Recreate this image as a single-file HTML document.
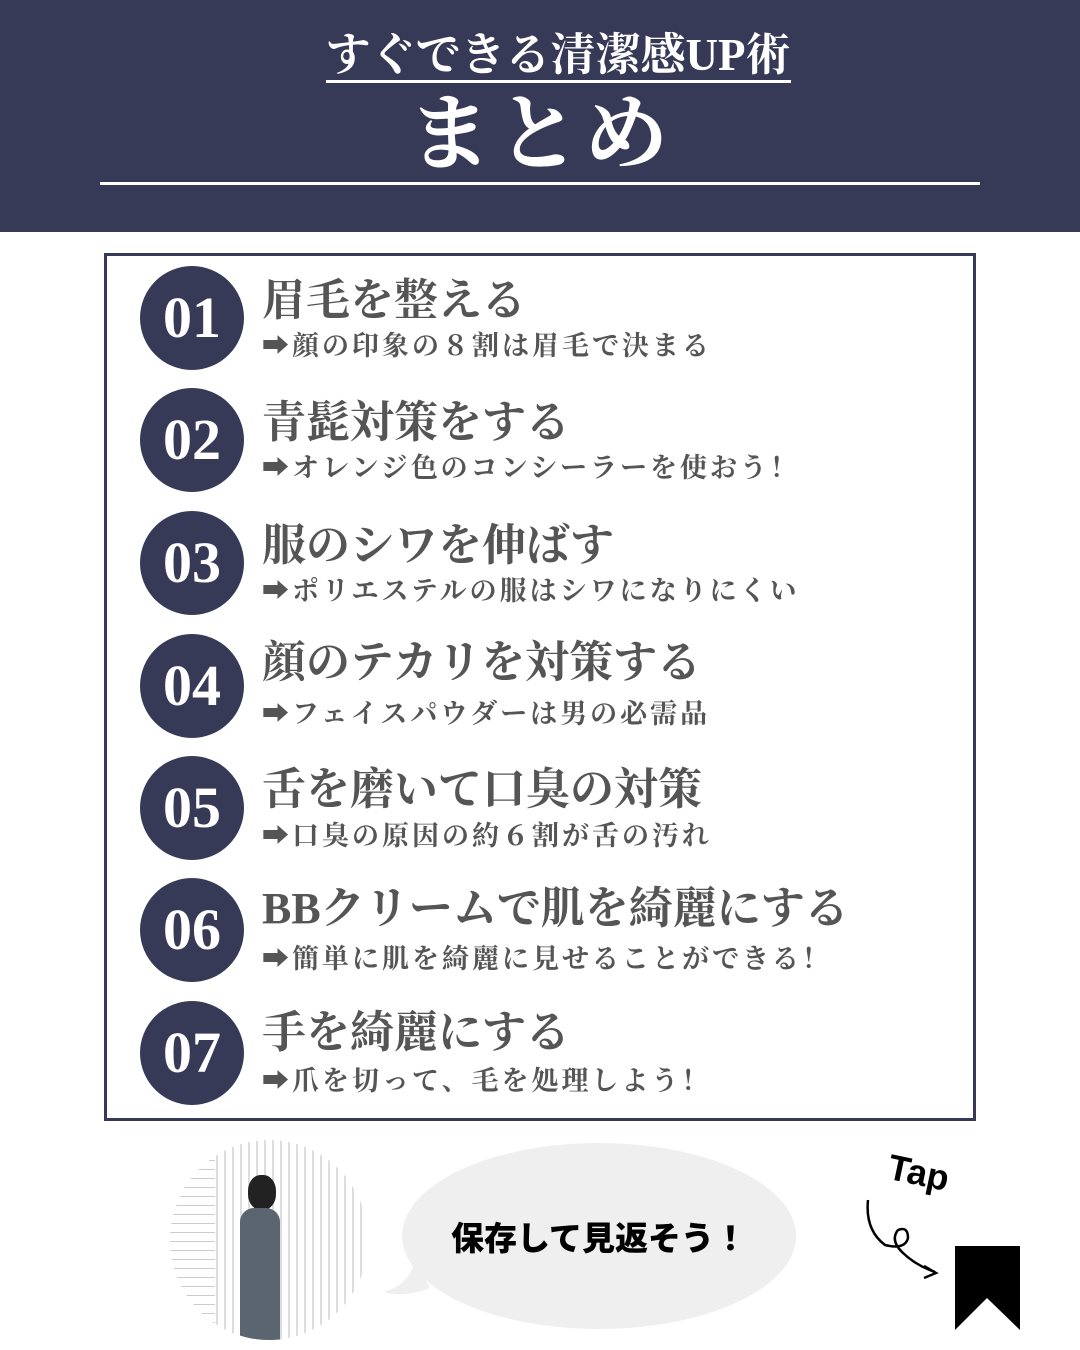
<!DOCTYPE html>
<html><head><meta charset="utf-8"><style>
*{margin:0;padding:0;box-sizing:border-box}
body{width:1080px;height:1350px;background:#fff;position:relative;overflow:hidden;font-family:"Liberation Serif","Noto Serif CJK SC",serif}
.hdr{position:absolute;left:0;top:0;width:1080px;height:232px;background:#363a57}
.t1{position:absolute;left:18px;width:1080px;top:27px;text-align:center;color:#fff;font-size:45px;font-weight:bold;line-height:56px}
.t1 span{border-bottom:3px solid #fff;padding-bottom:0}
.t2{position:absolute;left:0;width:1080px;top:88px;text-align:center;color:#fff;font-size:84px;font-weight:bold;line-height:96px;letter-spacing:4px}
.hl{position:absolute;left:100px;top:182px;width:880px;height:3px;background:#fff}
.box{position:absolute;left:104px;top:253px;width:872px;height:868px;border:3px solid #363a57}
.c{position:absolute;left:140px;width:104px;height:104px;border-radius:50%;background:#363a57;color:#fff;font-size:58px;font-weight:bold;text-align:center;line-height:104px}
.ti{position:absolute;left:262px;font-size:44px;font-weight:bold;color:#555;line-height:50px;white-space:nowrap}
.su{position:absolute;left:262px;font-size:27px;letter-spacing:3px;font-weight:bold;color:#555;line-height:30px;white-space:nowrap}
.av{position:absolute;left:170px;top:1140px;width:198px;height:200px;border-radius:50%;overflow:hidden;background:repeating-linear-gradient(90deg,#fff 0 6px,#ddd 6px 8px)}
.bub{position:absolute;left:402px;top:1143px;width:394px;height:186px;border-radius:50%;background:#efefef}
.bt{position:absolute;left:402px;top:1212px;width:394px;text-align:center;font-family:"Liberation Sans","Noto Sans CJK JP",sans-serif;font-weight:900;font-size:33px;color:#000}
</style></head><body>
<div class="hdr"></div>
<div class="t1"><span>すぐできる清潔感UP術</span></div>
<div class="t2">まとめ</div>
<div class="hl"></div>
<div class="box"></div>

<div class="c" style="top:266px">01</div>
<div class="ti" style="top:276px">眉毛を整える</div>
<div class="su" style="top:331px">➡顔の印象の８割は眉毛で決まる</div>

<div class="c" style="top:388px">02</div>
<div class="ti" style="top:398px">青髭対策をする</div>
<div class="su" style="top:453px">➡オレンジ色のコンシーラーを使おう！</div>

<div class="c" style="top:511px">03</div>
<div class="ti" style="top:521px">服のシワを伸ばす</div>
<div class="su" style="top:576px">➡ポリエステルの服はシワになりにくい</div>

<div class="c" style="top:634px">04</div>
<div class="ti" style="top:638px">顔のテカリを対策する</div>
<div class="su" style="top:699px">➡フェイスパウダーは男の必需品</div>

<div class="c" style="top:756px">05</div>
<div class="ti" style="top:765px">舌を磨いて口臭の対策</div>
<div class="su" style="top:821px">➡口臭の原因の約６割が舌の汚れ</div>

<div class="c" style="top:878px">06</div>
<div class="ti" style="top:884px">BBクリームで肌を綺麗にする</div>
<div class="su" style="top:944px">➡簡単に肌を綺麗に見せることができる！</div>

<div class="c" style="top:1001px">07</div>
<div class="ti" style="top:1008px">手を綺麗にする</div>
<div class="su" style="top:1066px">➡爪を切って、毛を処理しよう！</div>

<div class="av">
<div style="position:absolute;left:0;top:0;width:45px;height:200px;background:repeating-linear-gradient(0deg,#fff 0 8px,#ccc 8px 9px)"></div>
<div style="position:absolute;left:78px;top:35px;width:28px;height:35px;border-radius:45%;background:#222"></div>
<div style="position:absolute;left:70px;top:68px;width:40px;height:135px;border-radius:14px 14px 0 0;background:#5a6570"></div>
</div>
<div class="bub"></div>
<svg style="position:absolute;left:375px;top:1260px" width="60" height="50"><path d="M40 0 Q35 25 8 32 Q30 38 55 28 Z" fill="#efefef"/></svg>
<div class="bt">保存して見返そう！</div>

<div style="position:absolute;left:888px;top:1152px;font-family:'Liberation Sans',sans-serif;font-weight:bold;font-size:36px;transform:rotate(12deg)">Tap</div>
<svg style="position:absolute;left:860px;top:1190px" width="90" height="100"><path d="M8 10 Q5 40 25 55 Q45 60 48 48 Q48 36 38 40 Q30 50 42 62 Q55 75 75 82" fill="none" stroke="#000" stroke-width="2.5"/><path d="M64 76 L76 83 L64 88" fill="none" stroke="#000" stroke-width="2.5"/></svg>
<svg style="position:absolute;left:955px;top:1246px" width="66" height="85"><path d="M0 0 H65 V84 L32 52 L0 84 Z" fill="#000"/></svg>
</body></html>
